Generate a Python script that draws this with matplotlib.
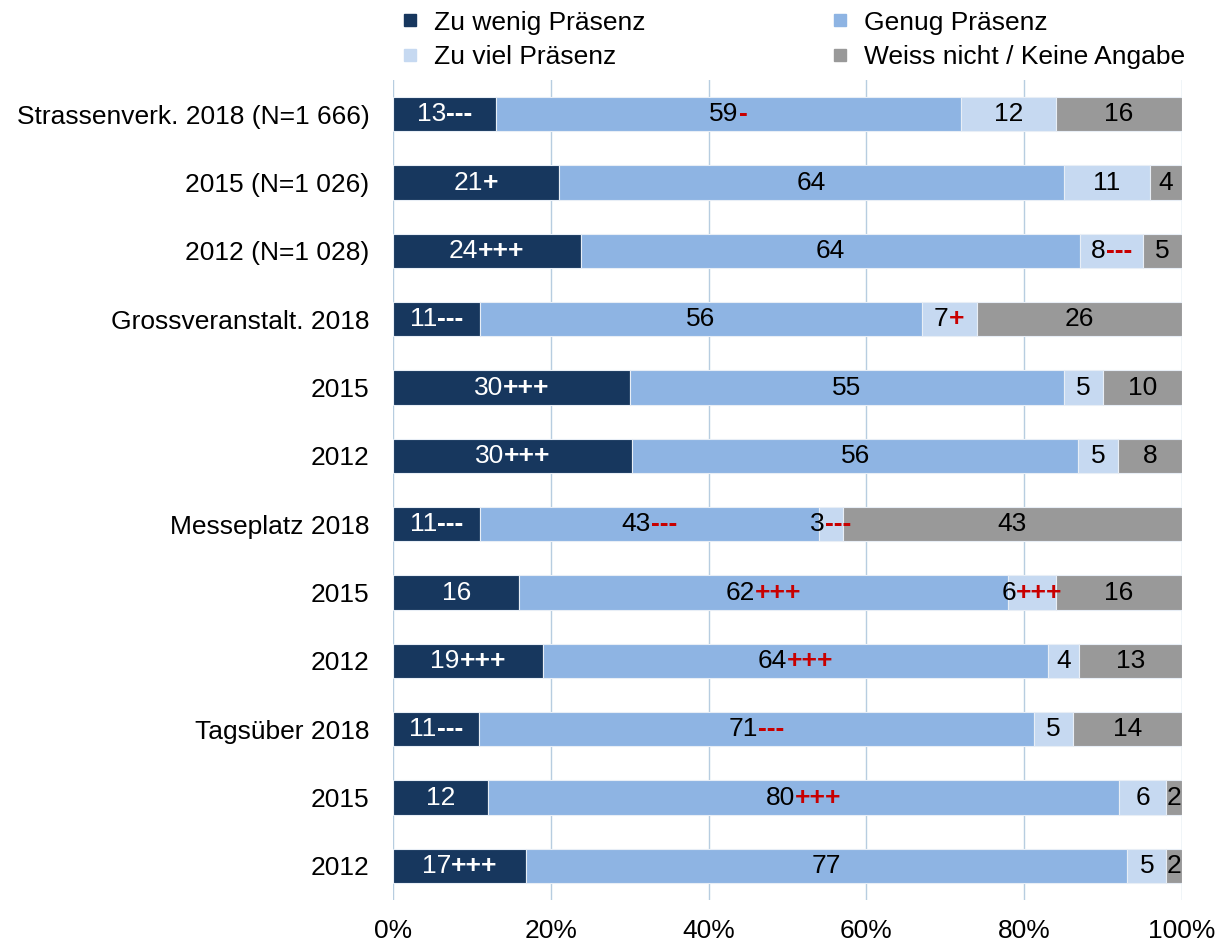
import numpy as np
import matplotlib
matplotlib.use("Agg")
import matplotlib.pyplot as plt
from matplotlib.lines import Line2D
from matplotlib.offsetbox import TextArea, HPacker, AnnotationBbox

plt.rcParams['font.family'] = ['Liberation Sans', 'DejaVu Sans']
plt.rcParams['font.size'] = 19

# data
rows = ['Strassenverk. 2018 (N=1 666)', '2015 (N=1 026)', '2012 (N=1 028)',
        'Grossveranstalt. 2018', '2015', '2012',
        'Messeplatz 2018', '2015', '2012',
        'Tagsüber 2018', '2015', '2012']
zu_wenig = [13, 21, 24, 11, 30, 30, 11, 16, 19, 11, 12, 17]
genug = [59, 64, 64, 56, 55, 56, 43, 62, 64, 71, 80, 77]
zu_viel = [12, 11, 8, 7, 5, 5, 3, 6, 4, 5, 6, 5]
weiss = [16, 4, 5, 26, 10, 8, 43, 16, 13, 14, 2, 2]

sig_wenig = ['---', '+', '+++', '---', '+++', '+++', '---', '', '+++', '---', '', '+++']
sig_genug = ['-', '', '', '', '', '', '---', '+++', '+++', '---', '+++', '']
sig_viel = ['', '', '---', '+', '', '', '---', '+++', '', '', '', '']
sig_weiss = [''] * 12

series_names = ['Zu wenig Präsenz', 'Genug Präsenz', 'Zu viel Präsenz', 'Weiss nicht / Keine Angabe']
colors = ['#17375E', '#8EB4E3', '#C6D9F1', '#999999']
txt_colors = ['white', 'black', 'black', 'black']
sig_colors = ['white', '#C80000', '#C80000', '#C80000']

vals = np.array([zu_wenig, genug, zu_viel, weiss], dtype=float)
signs = [sig_wenig, sig_genug, sig_viel, sig_weiss]
shares = vals / vals.sum(axis=0) * 100

fig = plt.figure(figsize=(12.18, 9.44), dpi=100)
ax = fig.add_axes([0.3227, 0.0466, 0.6477, 0.8686])

y = np.arange(len(rows))
left = np.zeros(len(rows))
for k in range(4):
    ax.barh(y, shares[k], left=left, height=0.5, color=colors[k],
            edgecolor='#E8EEF6', linewidth=0.8, zorder=2)
    for i in range(len(rows)):
        cx = left[i] + shares[k][i] / 2
        parts = [TextArea(str(int(vals[k][i])),
                          textprops=dict(color=txt_colors[k], fontsize=19))]
        if signs[k][i]:
            parts.append(TextArea(signs[k][i],
                                  textprops=dict(color=sig_colors[k], fontsize=19,
                                                 fontweight='bold')))
        box = HPacker(children=parts, pad=0, sep=0, align='baseline')
        ab = AnnotationBbox(box, (cx, y[i]), frameon=False, pad=0,
                            box_alignment=(0.5, 0.5), zorder=3)
        ax.add_artist(ab)
    left += shares[k]

ax.set_xlim(0, 100)
ax.set_ylim(len(rows) - 0.5, -0.5)
ax.set_xticks(np.arange(0, 101, 20))
ax.set_xticklabels([f'{v}%' for v in range(0, 101, 20)])
ax.set_yticks(y)
ax.set_yticklabels(rows)
ax.tick_params(axis='both', length=0, labelsize=19)
ax.tick_params(axis='y', pad=17)
ax.tick_params(axis='x', pad=14)
ax.grid(axis='x', color='#B7CDE0', linewidth=1, zorder=0)
ax.set_axisbelow(True)
for s in ax.spines.values():
    s.set_visible(False)

handles = [Line2D([], [], marker='s', linestyle='', markersize=9,
                  markerfacecolor=c, markeredgecolor=c) for c in colors]
order = [0, 2, 1, 3]
fig.legend([handles[i] for i in order], [series_names[i] for i in order],
           ncol=2, loc='upper left', bbox_to_anchor=(0.3105, 1.014),
           frameon=False, fontsize=19, handlelength=0.6, handletextpad=0.6,
           columnspacing=7.1, labelspacing=0.4)

fig.savefig('out.png', dpi=100)
